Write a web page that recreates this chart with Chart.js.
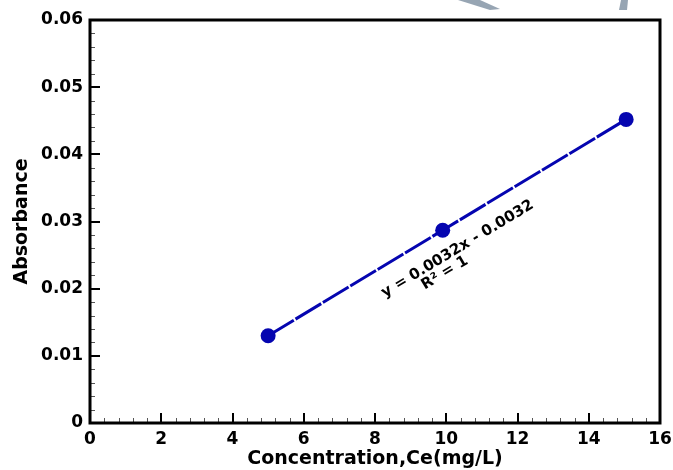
<!DOCTYPE html>
<html>
<head>
<meta charset="utf-8">
<script src="https://cdn.jsdelivr.net/npm/chart.js@4/dist/chart.umd.min.js"></script>
<style>
  html, body { margin: 0; padding: 0; background: #ffffff; }
  #wrap { width: 673px; height: 470px; }
</style>
</head>
<body>
<div id="wrap"><canvas id="c" width="673" height="470"></canvas></div>
<script>
// ---- data ----
const concentration = [5, 9.9, 15.05];
const absorbance = [0.013, 0.0287, 0.0452];
const xTicks = [0, 2, 4, 6, 8, 10, 12, 14, 16];
const yTicks = [0, 0.01, 0.02, 0.03, 0.04, 0.05, 0.06];
const yTickLabels = ['0', '0.01', '0.02', '0.03', '0.04', '0.05', '0.06'];
const xTitle = 'Concentration,Ce(mg/L)';
const yTitle = 'Absorbance';
const equationLines = ['y = 0.0032x - 0.0032', 'R\u00B2 = 1'];
// annotation anchors (data coordinates)
const equationAnchorX = [10.32, 9.96];
const equationAnchorY = [0.0259, 0.02233];

const FONT = 'DejaVu Sans';
const BLUE = '#0505b0';

const framePlugin = {
  id: 'frame',
  afterDraw(chart) {
    const ctx = chart.ctx;
    const a = chart.chartArea;
    const xs = chart.scales.x, ys = chart.scales.y;
    ctx.save();
    const xMinorStep = 0.4, yMinorStep = 0.002;
    ctx.lineWidth = 1;
    ctx.strokeStyle = '#555';
    for (let i = 0; i <= Math.round(16 / xMinorStep); i++) {
      const v = i * xMinorStep;
      const px = Math.round(xs.getPixelForValue(v)) + 0.5;
      ctx.beginPath(); ctx.moveTo(px, a.bottom); ctx.lineTo(px, a.bottom - 5); ctx.stroke();
    }
    for (let i = 0; i <= Math.round(0.06 / yMinorStep); i++) {
      const v = i * yMinorStep;
      const py = Math.round(ys.getPixelForValue(v)) + 0.5;
      ctx.beginPath(); ctx.moveTo(a.left, py); ctx.lineTo(a.left + 5, py); ctx.stroke();
    }
    ctx.strokeStyle = '#000';
    ctx.lineWidth = 2;
    xTicks.forEach(v => {
      const px = Math.round(xs.getPixelForValue(v));
      ctx.beginPath(); ctx.moveTo(px, a.bottom); ctx.lineTo(px, a.bottom - 10); ctx.stroke();
    });
    yTicks.forEach(v => {
      const py = Math.round(ys.getPixelForValue(v));
      ctx.beginPath(); ctx.moveTo(a.left, py); ctx.lineTo(a.left + 10, py); ctx.stroke();
    });
    // frame
    ctx.lineWidth = 3;
    ctx.strokeRect(a.left, a.top, a.right - a.left, a.bottom - a.top);

    // equation text
    const meta = chart.getDatasetMeta(0).data;
    const p0 = meta[0], p2 = meta[meta.length - 1];
    const ang = Math.atan2(p2.y - p0.y, p2.x - p0.x);
    ctx.fillStyle = '#000';
    ctx.font = 'bold 15px "' + FONT + '"';
    ctx.textAlign = 'center';
    ctx.textBaseline = 'middle';
    equationLines.forEach((t, i) => {
      const cx = xs.getPixelForValue(equationAnchorX[i]);
      const cy = ys.getPixelForValue(equationAnchorY[i]);
      ctx.save();
      ctx.translate(cx, cy);
      ctx.rotate(ang);
      ctx.fillText(t, 0, 0);
      ctx.restore();
    });

    // faint watermark strokes at top
    ctx.fillStyle = 'rgba(125,142,160,0.8)';
    ctx.beginPath();
    ctx.moveTo(458, 0); ctx.lineTo(480, 0); ctx.lineTo(500, 9); ctx.lineTo(490, 10); ctx.closePath(); ctx.fill();
    ctx.beginPath();
    ctx.moveTo(621, 0); ctx.lineTo(628, 0); ctx.lineTo(627, 10); ctx.lineTo(619, 10); ctx.closePath(); ctx.fill();
    ctx.restore();
  }
};

new Chart(document.getElementById('c'), {
  type: 'scatter',
  data: {
    datasets: [{
      data: concentration.map((x, i) => ({ x: x, y: absorbance[i] })),
      showLine: true,
      borderColor: BLUE,
      borderWidth: 3,
      borderDash: [30, 2],
      backgroundColor: BLUE,
      pointBackgroundColor: BLUE,
      pointBorderColor: BLUE,
      pointRadius: 7.5,
      pointBorderWidth: 0,
      tension: 0
    }]
  },
  options: {
    responsive: false,
    animation: false,
    devicePixelRatio: 1,
    layout: { padding: { top: 20, right: 13, left: 0, bottom: 0 } },
    plugins: { legend: { display: false }, tooltip: { enabled: false } },
    scales: {
      x: {
        type: 'linear', min: 0, max: 16,
        afterBuildTicks: s => { s.ticks = xTicks.map(v => ({ value: v })); },
        afterFit: s => { s.height = 47; s.paddingLeft = 0; s.paddingRight = 0; },
        grid: { display: false, drawTicks: false },
        border: { display: false },
        ticks: {
          color: '#000', padding: 6, maxRotation: 0, autoSkip: false,
          font: { family: FONT, weight: 'bold', size: 17 },
          callback: v => String(v)
        },
        title: {
          display: true, text: xTitle, color: '#000',
          font: { family: FONT, weight: 'bold', size: 19 },
          padding: { top: 0, bottom: 0 }
        }
      },
      y: {
        type: 'linear', min: 0, max: 0.06,
        afterBuildTicks: s => { s.ticks = yTicks.map(v => ({ value: v })); },
        afterFit: s => { s.width = 90; s.paddingTop = 0; s.paddingBottom = 0; },
        grid: { display: false, drawTicks: false },
        border: { display: false },
        ticks: {
          color: '#000', padding: 7, autoSkip: false,
          font: { family: FONT, weight: 'bold', size: 17 },
          callback: (v) => { const i = yTicks.indexOf(v); return i >= 0 ? yTickLabels[i] : ''; }
        },
        title: {
          display: true, text: yTitle, color: '#000',
          font: { family: FONT, weight: 'bold', size: 19 },
          padding: { top: 11, bottom: 0 }
        }
      }
    }
  },
  plugins: [framePlugin]
});
</script>
</body>
</html>
